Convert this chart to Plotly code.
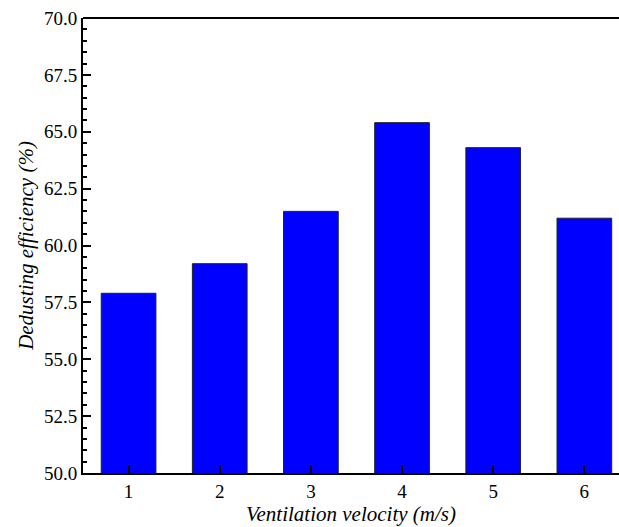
import plotly.graph_objects as go

velocity = [1, 2, 3, 4, 5, 6]
efficiency = [57.9, 59.2, 61.5, 65.4, 64.3, 61.2]
y_ticks = [50.0, 52.5, 55.0, 57.5, 60.0, 62.5, 65.0, 67.5, 70.0]

font_family = "'Times New Roman', 'Liberation Serif', 'DejaVu Serif', serif"

fig = go.Figure()
fig.add_trace(go.Bar(
    x=velocity, y=efficiency, width=0.6,
    marker=dict(color="#0000FF", line=dict(color="#222222", width=1)),
))

fig.update_layout(
    width=619, height=527,
    margin=dict(l=83, r=0, t=18, b=54),
    paper_bgcolor="white", plot_bgcolor="white",
    showlegend=False,
    font=dict(family=font_family, size=19, color="black"),
    xaxis=dict(
        range=[0.5, 6.38], tickvals=velocity, ticktext=[str(v) for v in velocity],
        ticks="inside", ticklen=8, tickwidth=1.5, tickcolor="black",
        showline=True, linecolor="black", linewidth=2, showgrid=False, zeroline=False,
        tickfont=dict(family=font_family, size=19),
        title=dict(text="<i>Ventilation velocity (m/s)</i>", standoff=3,
                   font=dict(family=font_family, size=21)),
    ),
    yaxis=dict(
        range=[50, 70], tickvals=y_ticks, ticktext=[f"{v:.1f}" for v in y_ticks],
        ticks="inside", ticklen=8, tickwidth=1.5, tickcolor="black",
        minor=dict(ticks="inside", dtick=0.5, ticklen=4, tickwidth=1.5, tickcolor="black"),
        showline=True, linecolor="black", linewidth=2, showgrid=False, zeroline=False,
        tickfont=dict(family=font_family, size=19),
        title=dict(text="<i>Dedusting efficiency (%)</i>", standoff=5,
                   font=dict(family=font_family, size=21)),
    ),
    shapes=[dict(type="line", xref="paper", yref="paper", x0=0, x1=1, y0=1, y1=1,
                 line=dict(color="black", width=2))],
)

fig.write_html("out.html")
